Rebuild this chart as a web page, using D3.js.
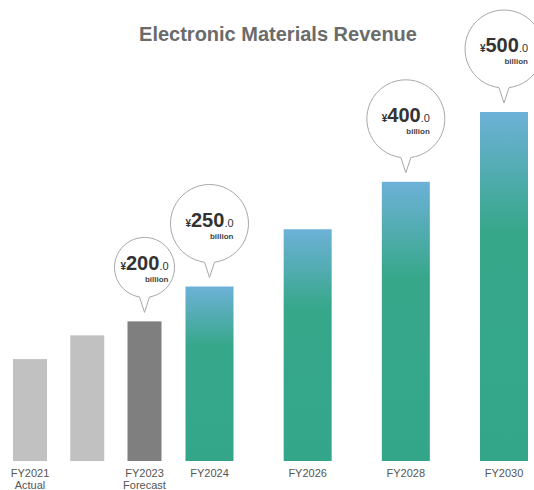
<!DOCTYPE html>
<html>
<head>
<meta charset="utf-8">
<script src="https://cdn.jsdelivr.net/npm/d3@7"></script>
<style>
  body { margin: 0; background: #fff; }
  svg { display: block; font-family: "Liberation Sans", Arial, sans-serif; }
</style>
</head>
<body>
<svg id="chart" width="534" height="490"></svg>
<script>
// datos
var years = [2021, 2022, 2023, 2024, 2026, 2028, 2030];
var labels = ["FY2021", "", "FY2023", "FY2024", "FY2026", "FY2028", "FY2030"];
var subLabels = ["Actual", "", "Forecast", "", "", "", ""];
var kinds = ["actual", "actual", "forecast", "plan", "plan", "plan", "plan"];
var revenue = [146, 180, 200, 250, 332, 400, 500];
var bubbleYears = [2023, 2024, 2028, 2030];
var bubbleText = ["200", "250", "400", "500"];

var svg = d3.select("#chart");

// escala x por tramos (los años no estan espaciados igual)
var x = d3.scaleLinear()
  .domain([2021, 2023, 2024, 2030])
  .range([30, 144.5, 209.5, 504]);

var y = d3.scaleLinear()
  .domain([0, 500])
  .range([461, 112]);

// gradiente azul -> verde
var grad = svg.append("defs").append("linearGradient")
  .attr("id", "tealGrad")
  .attr("x1", 0).attr("y1", 0).attr("x2", 0).attr("y2", 1);
grad.append("stop").attr("offset", "0%").attr("stop-color", "#6db1d8");
grad.append("stop").attr("offset", "34%").attr("stop-color", "#37a78a");
grad.append("stop").attr("offset", "100%").attr("stop-color", "#33a689");

function barWidth(k) { return k == "plan" ? 48 : 34; }
function barFill(k) {
  if (k == "actual") return "#c1c1c1";
  if (k == "forecast") return "#7f7f7f";
  return "url(#tealGrad)";
}

// titulo
svg.append("text")
  .attr("x", 278)
  .attr("y", 41)
  .attr("text-anchor", "middle")
  .attr("font-size", 20)
  .attr("font-weight", "bold")
  .attr("fill", "#6b6b6b")
  .text("Electronic Materials Revenue");

// barras
svg.selectAll("rect.bar")
  .data(years)
  .enter().append("rect")
  .attr("class", "bar")
  .attr("x", function(d, i) { return x(d) - barWidth(kinds[i]) / 2; })
  .attr("width", function(d, i) { return barWidth(kinds[i]); })
  .attr("y", function(d, i) { return y(revenue[i]); })
  .attr("height", function(d, i) { return y(0) - y(revenue[i]); })
  .attr("fill", function(d, i) { return barFill(kinds[i]); });

// etiquetas eje x
var lab = svg.selectAll("text.xlab")
  .data(years)
  .enter().append("text")
  .attr("class", "xlab")
  .attr("text-anchor", "middle")
  .attr("font-size", 11)
  .attr("fill", "#555");
lab.append("tspan")
  .attr("x", function(d) { return x(d); })
  .attr("y", 477)
  .text(function(d, i) { return labels[i]; });
lab.append("tspan")
  .attr("x", function(d) { return x(d); })
  .attr("y", 489)
  .text(function(d, i) { return subLabels[i]; });

// globos
bubbleYears.forEach(function(yr, j) {
  var i = years.indexOf(yr);
  var cx = x(yr);
  var top = y(revenue[i]);
  var r = kinds[i] == "forecast" ? 30 : 39;
  var tip = top - 9;
  var cy = tip - 15 - r;
  var hw = 5;
  var by = cy + Math.sqrt(r * r - hw * hw);

  var g = svg.append("g");
  g.append("path")
    .attr("d", "M" + (cx - hw) + "," + by +
      " A" + r + "," + r + " 0 1 1 " + (cx + hw) + "," + by +
      " L" + cx + "," + tip + " Z")
    .attr("fill", "#fff")
    .attr("stroke", "#a8a8a8")
    .attr("stroke-width", 1);

  var t = g.append("text")
    .attr("x", cx)
    .attr("y", cy + 3)
    .attr("text-anchor", "middle")
    .attr("fill", "#333");
  t.append("tspan").attr("font-size", 10).attr("font-weight", "bold").text("¥");
  t.append("tspan").attr("font-size", 20).attr("font-weight", "bold").text(bubbleText[j]);
  t.append("tspan").attr("font-size", 11).text(".0");

  g.append("text")
    .attr("x", cx + 24)
    .attr("y", cy + 15)
    .attr("text-anchor", "end")
    .attr("font-size", 8)
    .attr("font-weight", "bold")
    .attr("fill", "#444")
    .text("billion");
});
</script>
</body>
</html>
